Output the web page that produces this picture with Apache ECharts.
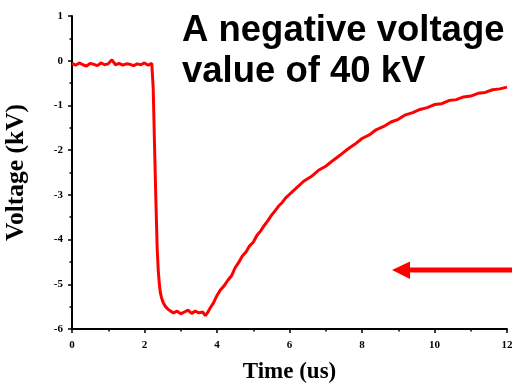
<!DOCTYPE html>
<html>
<head>
<meta charset="utf-8">
<script src="https://cdn.jsdelivr.net/npm/echarts@6/dist/echarts.min.js"></script>
<style>
  html, body { margin: 0; padding: 0; background: #fff; }
  #chart { width: 512px; height: 388px; }
</style>
</head>
<body>
<div id="chart"></div>
<script>
// Pulse waveform: time in microseconds, voltage in kV
const timeUs = [
  0, 0.1, 0.2, 0.3, 0.4, 0.5, 0.6, 0.7, 0.8, 0.9, 1.0, 1.1, 1.2, 1.3, 1.4, 1.5, 1.6, 1.7, 1.8, 1.9, 2.0, 2.1, 2.2,
  2.22, 2.24, 2.26, 2.28, 2.31, 2.35, 2.38, 2.41, 2.44, 2.47, 2.52, 2.58, 2.65, 2.72, 2.8, 2.9, 3.0, 3.1, 3.2, 3.3, 3.4, 3.5, 3.6, 3.68, 3.75,
  3.82, 3.9, 4.0, 4.1, 4.2, 4.3, 4.4, 4.5, 4.6, 4.7, 4.8, 4.9, 5.0, 5.1, 5.2, 5.3, 5.4, 5.5, 5.6, 5.7, 5.8, 5.9, 6.0,
  6.2, 6.4, 6.6, 6.8, 7.0, 7.2, 7.4, 7.6, 7.8, 8.0, 8.2, 8.4, 8.6, 8.8, 9.0, 9.2, 9.4, 9.6, 9.8, 10.0,
  10.2, 10.4, 10.6, 10.8, 11.0, 11.2, 11.4, 11.6, 11.8, 12.0
];
const voltageKV = [
  -0.06, -0.10, -0.05, -0.09, -0.12, -0.06, -0.08, -0.11, -0.05, -0.09, -0.07, 0.02, -0.09, -0.06, -0.10, -0.07, -0.08, -0.11, -0.07, -0.09, -0.05, -0.10, -0.06,
  -0.10, -0.60, -1.30, -2.00, -3.00, -4.20, -4.70, -5.00, -5.20, -5.30, -5.42, -5.50, -5.56, -5.60, -5.64, -5.60, -5.66, -5.62, -5.58, -5.65, -5.60, -5.64, -5.62, -5.70, -5.62,
  -5.52, -5.42, -5.25, -5.12, -5.03, -4.91, -4.81, -4.63, -4.51, -4.37, -4.28, -4.14, -4.06, -3.91, -3.81, -3.69, -3.58, -3.46, -3.36, -3.25, -3.17, -3.06, -2.99,
  -2.84, -2.69, -2.59, -2.45, -2.36, -2.23, -2.11, -1.98, -1.87, -1.74, -1.66, -1.54, -1.47, -1.37, -1.31, -1.21, -1.16, -1.09, -1.05, -0.98,
  -0.96, -0.89, -0.87, -0.81, -0.79, -0.73, -0.71, -0.65, -0.63, -0.59
];
const xTicks = { min: 0, max: 12, interval: 2 };
const yTicks = { min: -6, max: 1, interval: 1 };

const seriesData = timeUs.map((t, i) => [t, voltageKV[i]]);

const serif = '"Liberation Serif", "Times New Roman", serif';
const sans = '"Liberation Sans", Arial, sans-serif';

const axisCommon = {
  axisLine: { show: true, onZero: false, lineStyle: { color: '#000', width: 2 } },
  axisTick: { show: true, inside: false, length: 4, lineStyle: { color: '#000', width: 1.5 } },
  minorTick: { show: true, splitNumber: 2, length: 2.5, lineStyle: { color: '#000', width: 1.5 } },
  splitLine: { show: false },
  minorSplitLine: { show: false },
  axisLabel: { fontFamily: serif, fontWeight: 'bold', fontSize: 11, color: '#000' }
};

const chart = echarts.init(document.getElementById('chart'), null, { renderer: 'canvas' });
chart.setOption({
  animation: false,
  backgroundColor: '#fff',
  title: {
    text: 'A negative voltage\nvalue of 40 kV',
    left: 177,
    top: 5,
    textStyle: { fontFamily: sans, fontWeight: 'bold', fontSize: 36.5, lineHeight: 41, color: '#000' }
  },
  grid: { left: 72, right: 5, top: 16, bottom: 59, containLabel: false, outerBoundsMode: 'none' },
  xAxis: Object.assign({}, axisCommon, {
    type: 'value',
    min: xTicks.min, max: xTicks.max, interval: xTicks.interval,
    name: 'Time (us)',
    nameLocation: 'middle',
    nameGap: 32,
    nameTextStyle: { fontFamily: serif, fontWeight: 'bold', fontSize: 23, color: '#000' },
    axisLabel: Object.assign({}, axisCommon.axisLabel, { margin: 11 })
  }),
  yAxis: Object.assign({}, axisCommon, {
    type: 'value',
    min: yTicks.min, max: yTicks.max, interval: yTicks.interval,
    name: 'Voltage (kV)',
    nameLocation: 'middle',
    nameGap: 43,
    nameTextStyle: { fontFamily: serif, fontWeight: 'bold', fontSize: 25.5, color: '#000' },
    axisLabel: Object.assign({}, axisCommon.axisLabel, { margin: 9 })
  }),
  series: [{
    type: 'line',
    data: seriesData,
    showSymbol: false,
    lineStyle: { color: '#ff0000', width: 3 },
    itemStyle: { color: '#ff0000' }
  }],
  graphic: [{
    type: 'group',
    children: [
      { type: 'rect', shape: { x: 408, y: 267.5, width: 104, height: 5 }, style: { fill: '#ff0000' } },
      { type: 'polygon', shape: { points: [[392, 270], [410, 261.5], [410, 279]] }, style: { fill: '#ff0000' } }
    ]
  }]
});
</script>
</body>
</html>
